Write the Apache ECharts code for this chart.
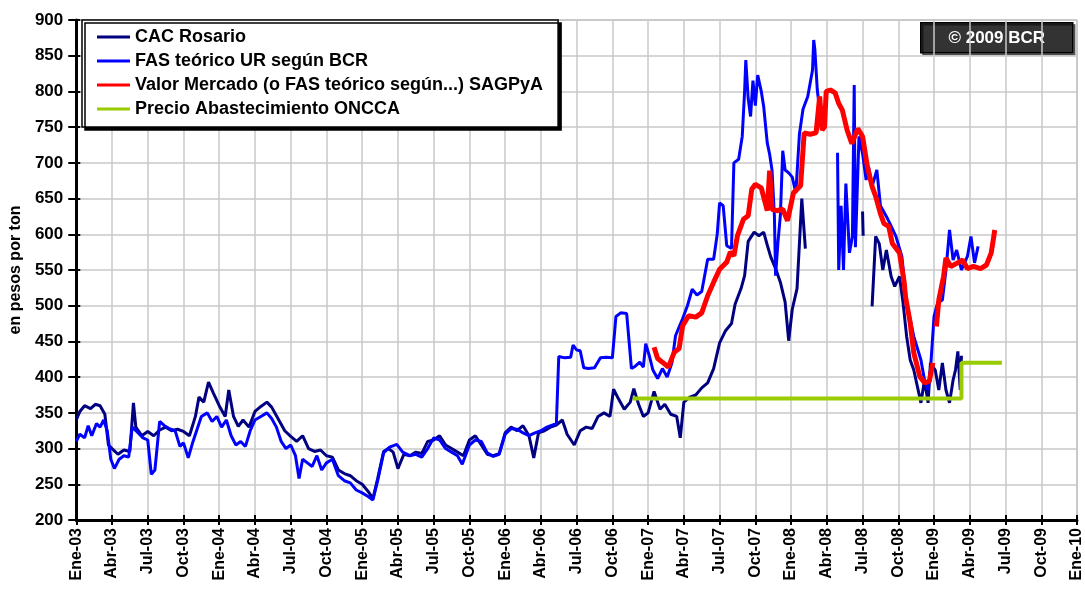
<!DOCTYPE html>
<html>
<head>
<meta charset="utf-8">
<script src="https://cdn.jsdelivr.net/npm/echarts@6/dist/echarts.min.js"></script>
<style>
  html, body { margin: 0; padding: 0; background: #fff; }
  #chart { width: 1085px; height: 590px; }
</style>
</head>
<body>
<div id="chart"></div>
<script>
// meses desde Ene-03
const mesNombres = ['Ene', 'Feb', 'Mar', 'Abr', 'May', 'Jun', 'Jul', 'Ago', 'Sep', 'Oct', 'Nov', 'Dic']

const cacMes = [0, 0.3, 0.7, 1.2, 1.6, 2.0, 2.4, 2.7, 3.0, 3.5, 4.0, 4.5, 4.8, 5.0, 5.5, 6.0, 6.5, 7.0, 7.5, 8.0, 8.5, 9.0, 9.5, 10.0, 10.3, 10.7, 11.1, 11.5, 12.0, 12.5, 12.8, 13.2, 13.6, 14.0, 14.5, 15.0, 15.5, 16.0, 16.4, 17.0, 17.5, 18.0, 18.5, 19.0, 19.5, 20.0, 20.5, 21.0, 21.5, 22.0, 22.5, 23.0, 23.5, 24.0, 24.5, 24.9, 25.3, 25.8, 26.2, 26.6, 27.0, 27.5, 28.0, 28.5, 29.0, 29.5, 30.0, 30.5, 31.0, 31.5, 32.0, 32.5, 33.0, 33.5, 34.0, 34.5, 35.0, 35.5, 36.0, 36.5, 37.0, 37.5, 38.0, 38.4, 38.8, 39.3, 39.8, 40.3, 40.8, 41.2, 41.8, 42.3, 42.8, 43.3, 43.8, 44.3, 44.8, 45.1, 45.5, 46.0, 46.5, 46.8, 47.2, 47.6, 48.0, 48.5, 49.0, 49.4, 49.9, 50.4, 50.7, 51.0, 51.5, 52.0, 52.5, 53.0, 53.5, 54.0, 54.5, 55.0, 55.3, 55.8, 56.1, 56.4, 56.9, 57.3, 57.7, 58.0, 58.3, 58.7, 59.1, 59.5, 59.8, 60.1, 60.5, 60.9, 61.2, 61.3, 66.0, 66.05, 66.3, 66.8, 67.1, 67.4, 67.7, 68.0, 68.4, 68.7, 69.1, 69.4, 69.7, 70.0, 70.3, 70.6, 70.9, 71.2, 71.5, 71.7, 72.1, 72.4, 72.7, 73.0, 73.3, 73.6, 73.8, 74.0, 74.2, 74.3, 74.4, 75.0, 75.05, 75.1]
const cacValor = [340, 352, 360, 356, 362, 360, 348, 305, 300, 292, 298, 296, 364, 330, 318, 324, 318, 326, 330, 325, 327, 324, 318, 345, 372, 365, 393, 378, 360, 345, 382, 345, 331, 340, 330, 352, 359, 365, 358, 340, 325, 317, 310, 318, 300, 296, 298, 290, 288, 270, 265, 262, 255, 250, 240, 230, 258, 296, 300, 295, 272, 292, 290, 295, 293, 310, 312, 318, 305, 300, 295, 290, 312, 318, 305, 292, 290, 293, 322, 330, 325, 332, 318, 287, 322, 325, 330, 333, 340, 320, 305, 325, 330, 328, 345, 350, 345, 383, 370, 355, 365, 384, 362, 345, 350, 380, 355, 362, 348, 345, 315, 365, 372, 375, 385, 392, 412, 448, 465, 475, 502, 524, 542, 590, 603, 598, 603, 585, 568, 552, 533, 505, 451, 495, 524, 650, 580, null, 632, 598, null, 499, 597, 587, 550, 578, 541, 527, 541, 504, 457, 424, 410, 387, 364, 396, 364, 420, 410, 382, 420, 382, 364, 396, 410, 436, 382, 430, null, null, 450, null]

const fasMes = [0, 0.3, 0.7, 1.0, 1.3, 1.7, 2.0, 2.3, 2.6, 2.9, 3.2, 3.6, 4.0, 4.4, 4.7, 5.2, 5.6, 6.0, 6.3, 6.6, 7.0, 7.4, 7.8, 8.3, 8.7, 9.0, 9.4, 9.8, 10.1, 10.5, 11.0, 11.4, 11.8, 12.2, 12.6, 13.0, 13.4, 13.8, 14.2, 14.6, 15.0, 15.5, 16.0, 16.4, 16.8, 17.2, 17.6, 18.0, 18.4, 18.7, 19.0, 19.4, 19.8, 20.2, 20.6, 21.0, 21.5, 22.0, 22.5, 23.0, 23.5, 24.0, 24.5, 24.9, 25.3, 25.8, 26.3, 26.9, 27.4, 28.0, 28.5, 29.0, 29.5, 30.0, 30.5, 31.0, 31.5, 32.0, 32.4, 33.0, 33.5, 34.0, 34.5, 35.0, 35.5, 36.0, 36.5, 37.0, 37.5, 38.0, 38.5, 39.0, 39.5, 40.0, 40.3, 40.5, 41.0, 41.5, 41.7, 42.0, 42.3, 42.6, 43.0, 43.5, 44.0, 44.5, 45.0, 45.3, 45.7, 46.2, 46.6, 46.9, 47.3, 47.6, 47.8, 48.1, 48.4, 48.8, 49.2, 49.6, 50.0, 50.3, 50.6, 50.9, 51.3, 51.7, 52.1, 52.5, 53.0, 53.5, 53.8, 54.0, 54.3, 54.6, 55.0, 55.2, 55.6, 55.9, 56.1, 56.2, 56.4, 56.6, 56.8, 57.0, 57.2, 57.5, 57.7, 58.0, 58.2, 58.4, 58.6, 58.7, 58.9, 59.1, 59.3, 59.5, 59.8, 60.1, 60.4, 60.7, 61.0, 61.4, 61.8, 61.9, 62.0, 62.2, 62.3, 63.85, 63.9, 64.0, 64.2, 64.4, 64.6, 64.9, 65.15, 65.3, 65.4, 65.7, 66.0, 66.3, 66.5, 66.8, 67.2, 67.5, 68.0, 68.3, 68.8, 69.3, 69.7, 70.3, 70.9, 71.2, 71.5, 71.7, 72.0, 72.3, 72.7, 73.0, 73.3, 73.6, 73.9, 74.3, 74.8, 75.1, 75.4, 75.7]
const fasValor = [310, 320, 315, 332, 318, 335, 330, 340, 325, 285, 272, 285, 290, 288, 330, 322, 315, 312, 264, 270, 338, 332, 328, 325, 303, 308, 287, 310, 325, 345, 350, 338, 345, 330, 340, 318, 305, 310, 303, 325, 340, 345, 350, 342, 330, 310, 300, 305, 290, 258, 285, 280, 275, 290, 270, 280, 285, 262, 255, 252, 242, 238, 233, 228, 255, 294, 302, 306, 295, 290, 292, 288, 300, 315, 312, 300, 295, 290, 278, 305, 312, 310, 294, 289, 292, 320, 328, 327, 322, 318, 322, 325, 330, 333, 335, 429, 427, 428, 445, 438, 437, 413, 412, 413, 427, 428, 427, 485, 490, 489, 412, 415, 421, 414, 447, 430, 410, 398, 412, 400, 420, 458, 470, 482, 500, 523, 515, 520, 565, 565, 600, 644, 640, 584, 580, 700, 705, 737, 800, 844, 790, 765, 815, 780, 823, 800, 779, 728, 712, 690, 626, 542, 589, 626, 717, 690, 686, 680, 658, 740, 775, 793, 830, 872, 858, 802, 788, null, 714, 550, 640, 550, 671, 574, 597, 809, 582, 737, 713, 676, 695, 667, 690, 640, 625, 615, 597, 569, 504, 457, 424, 396, 382, 410, 485, 504, 508, 550, 606, 564, 578, 550, 569, 597, 560, 583, 569]

const sagpyaMes = [48.5, 48.8, 49.2, 49.7, 50.2, 50.6, 50.9, 51.4, 52.0, 52.5, 53.0, 53.5, 54.0, 54.6, 54.9, 55.2, 55.5, 56.0, 56.4, 56.7, 57.0, 57.5, 58.0, 58.2, 58.4, 58.8, 59.3, 59.7, 60.2, 60.8, 61.1, 61.6, 62.1, 62.4, 62.6, 62.8, 62.95, 63.3, 63.7, 64.0, 64.3, 64.7, 65.1, 65.6, 66.0, 66.4, 66.8, 67.1, 67.5, 67.8, 68.2, 68.5, 69.1, 69.5, 69.6, 70.0, 70.3, 70.8, 71.2, 71.6, 71.9, 72.05, 72.2, 72.4, 72.8, 73.0, 73.4, 74.0, 74.4, 74.8, 75.3, 75.9, 76.4, 76.8, 77.1]
const sagpyaValor = [442, 426, 421, 414, 435, 440, 472, 486, 484, 490, 514, 533, 551, 561, 575, 570, 598, 621, 626, 663, 670, 665, 633, 689, 635, 633, 635, 619, 658, 668, 742, 740, 742, 793, 746, 750, 800, 802, 798, 783, 774, 746, 727, 748, 737, 695, 667, 653, 629, 615, 611, 587, 574, 532, 513, 476, 434, 401, 392, 394, 420, null, 471, 508, 541, 567, 555, 560, 564, 552, 555, 552, 557, 574, 606]

const onccaMes = [46.7, 74.3, 74.3, 77.7]
const onccaValor = [370, 370, 420, 420]

const nombres = ['CAC Rosario', 'FAS teórico UR según BCR', 'Valor Mercado (o FAS teórico según...) SAGPyA', 'Precio Abastecimiento ONCCA']
const colores = ['#000080', '#0000FF', '#FF0000', '#99CC00']

const pares = (xs, ys) => xs.map((x, i) => [x, ys[i] == null ? '-' : ys[i]])

const fuente = 'Liberation Sans, Arial, sans-serif'

const chart = echarts.init(document.getElementById('chart'))
const option = {
    backgroundColor: '#fff',
    animation: false,
    textStyle: { fontFamily: fuente },
    grid: {
        left: 76, right: 8, top: 20, bottom: 70,
        show: true,
        borderColor: '#999',
        borderWidth: 1
    },
    legend: {
        orient: 'vertical',
        left: 82,
        top: 20,
        padding: [8, 15, 9, 15],
        itemGap: 6,
        itemWidth: 33,
        itemHeight: 3,
        icon: 'rect',
        backgroundColor: '#fff',
        borderColor: '#000',
        borderWidth: 1.5,
        shadowColor: '#000',
        shadowBlur: 0,
        shadowOffsetX: 3,
        shadowOffsetY: 3,
        textStyle: { fontFamily: fuente, fontSize: 18, fontWeight: 'bold', color: '#000' },
        data: nombres
    },
    xAxis: [{
        type: 'value',
        min: 0,
        max: 84,
        interval: 3,
        axisLine: { lineStyle: { color: '#000', width: 3 } },
        axisTick: { length: 5, lineStyle: { color: '#000', width: 2 } },
        splitLine: { show: true, lineStyle: { color: '#c8c8c8', width: 1.5 } },
        axisLabel: {
            rotate: 90,
            margin: 8,
            fontFamily: fuente,
            fontSize: 16,
            fontWeight: 'bold',
            color: '#000',
            formatter: v => mesNombres[v % 12] + '-' + String(3 + Math.floor(v / 12)).padStart(2, '0')
        }
    }, {
        type: 'value',
        position: 'bottom',
        min: 0,
        max: 84,
        interval: 3,
        axisLine: { show: false },
        axisTick: { inside: true, length: 5, lineStyle: { color: '#000', width: 2 } },
        axisLabel: { show: false },
        splitLine: { show: false }
    }],
    yAxis: [{
        type: 'value',
        min: 200,
        max: 900,
        interval: 50,
        name: 'en pesos por ton',
        nameLocation: 'middle',
        nameGap: 47,
        nameTextStyle: { fontFamily: fuente, fontSize: 16, fontWeight: 'bold', color: '#000' },
        axisLine: { show: true, lineStyle: { color: '#000', width: 3 } },
        axisTick: { show: true, length: 8, lineStyle: { color: '#000', width: 2 } },
        splitLine: { show: true, lineStyle: { color: '#c8c8c8', width: 1.5 } },
        axisLabel: { margin: 13, fontFamily: fuente, fontSize: 17, fontWeight: 'bold', color: '#000' }
    }, {
        type: 'value',
        position: 'left',
        min: 200,
        max: 900,
        interval: 50,
        axisLine: { show: false },
        axisTick: { show: true, inside: true, length: 4, lineStyle: { color: '#000', width: 2 } },
        axisLabel: { show: false },
        splitLine: { show: false }
    }],
    series: [{
        name: nombres[0],
        type: 'line',
        data: pares(cacMes, cacValor),
        showSymbol: false,
        connectNulls: false,
        lineStyle: { color: colores[0], width: 3 },
        itemStyle: { color: colores[0] }
    }, {
        name: nombres[1],
        type: 'line',
        data: pares(fasMes, fasValor),
        showSymbol: false,
        connectNulls: false,
        lineStyle: { color: colores[1], width: 3 },
        itemStyle: { color: colores[1] }
    }, {
        name: nombres[2],
        type: 'line',
        data: pares(sagpyaMes, sagpyaValor),
        showSymbol: false,
        connectNulls: false,
        lineStyle: { color: colores[2], width: 5 },
        itemStyle: { color: colores[2] }
    }, {
        name: nombres[3],
        type: 'line',
        data: pares(onccaMes, onccaValor),
        showSymbol: false,
        lineStyle: { color: colores[3], width: 4 },
        itemStyle: { color: colores[3] }
    }],
    graphic: [{
        type: 'group',
        left: 920,
        top: 22,
        children: [{
            type: 'rect',
            shape: { x: 0, y: 0, width: 152, height: 30 },
            style: { fill: '#333', stroke: '#000', lineWidth: 1.5, shadowColor: 'rgba(0,0,0,0.5)', shadowOffsetX: 2, shadowOffsetY: 2 }
        }, {
            type: 'text',
            x: 76,
            y: 16,
            style: {
                text: '© 2009 BCR',
                fill: '#fff',
                font: 'bold 17px Liberation Sans, Arial, sans-serif',
                align: 'center',
                verticalAlign: 'middle'
            }
        }]
    }]
}
chart.setOption(option)
window.addEventListener('resize', () => chart.resize(), false)
</script>
</body>
</html>
